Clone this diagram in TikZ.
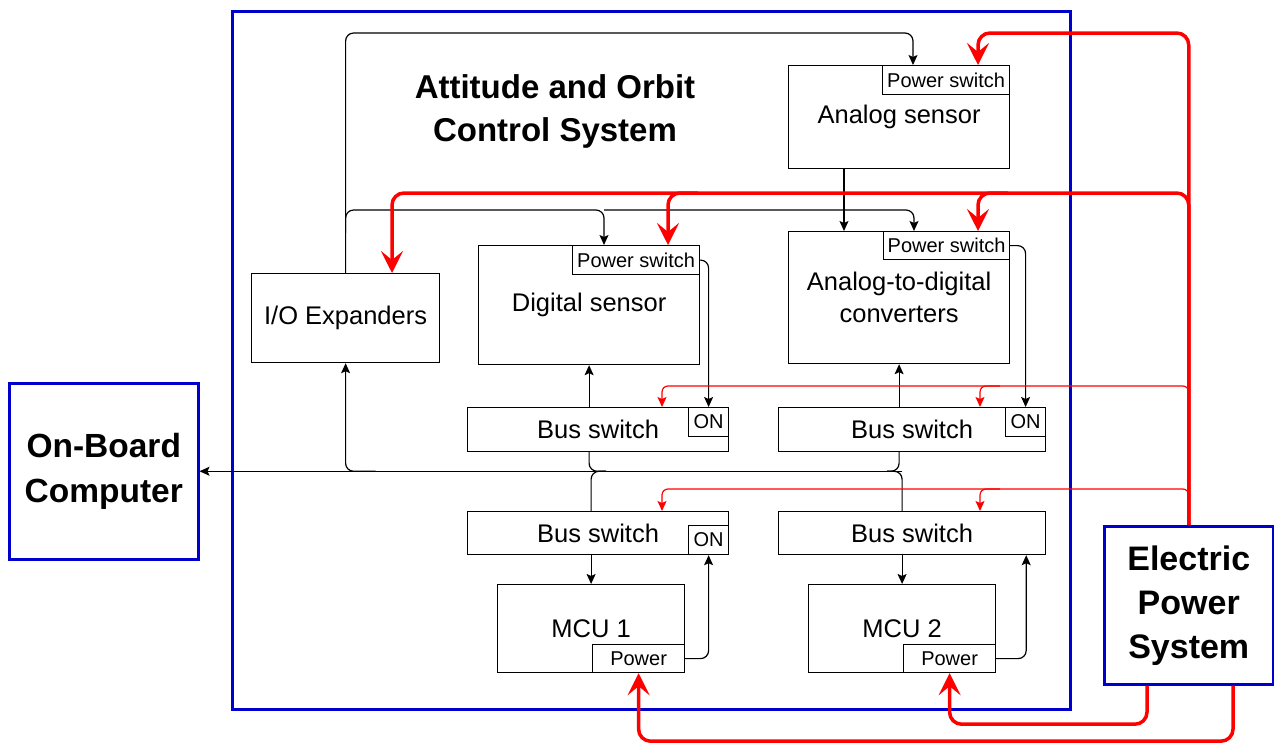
\documentclass[tikz,border=0pt]{standalone}
\usepackage{fontspec}
\setmainfont{Liberation Sans}
\usetikzlibrary{arrows.meta}
\definecolor{frameblue}{RGB}{0,0,204}

\begin{document}
\begin{tikzpicture}[x=1pt, y=-1pt,
	blk/.style = {draw, line width=1.2pt, inner sep=0pt, anchor=north west, align=center, font=\fontsize{25.5}{32}\selectfont},
	sub/.style = {draw, line width=1.2pt, inner sep=0pt, anchor=north west, font=\fontsize{20}{22}\selectfont},
	sys/.style = {draw=frameblue, line width=2.5pt, inner sep=0pt, anchor=north west, align=center, font=\fontsize{33.5}{45}\selectfont\bfseries},
	sig/.style = {line width=1.2pt, rounded corners=8pt, -{Stealth[length=10pt,width=9pt,inset=2pt]}},
	bus/.style = {line width=1.2pt, rounded corners=8pt},
	pwr/.style = {red, line width=3.5pt, rounded corners=12pt, -{Stealth[length=22pt,width=22pt,inset=9pt]}},
	pwrthin/.style = {red, line width=1.2pt, rounded corners=6pt, -{Stealth[length=10pt,width=9pt,inset=2pt]}}]
	\useasboundingbox (0,0) rectangle (1274,742);
	\node [sys, minimum width=838pt, minimum height=698pt] (aocs) at (231,10) {};
	\node [font=\fontsize{33}{43}\selectfont\bfseries, align=center] (title) at (555,111) {Attitude and Orbit\\Control System};
	\node [sys, minimum width=189pt, minimum height=176pt] (obc) at (8,382) {On-Board\\Computer};
	\node [sys, minimum width=169pt, minimum height=158pt, font=\fontsize{34}{44}\selectfont\bfseries] (eps) at (1103,525) {Electric\\Power\\System};
	% sensors and converters
	\node [blk, minimum width=221pt, minimum height=103pt] (asens) at (788,65) {Analog sensor};
	\node [sub, minimum width=127pt, minimum height=29pt] (pwA) at (882,65) {Power switch};
	\node [blk, minimum width=221pt, minimum height=132pt] (adc) at (788,231) {Analog-to-digital\\converters};
	\node [sub, minimum width=126pt, minimum height=28pt] (pwC) at (883,231) {Power switch};
	\node [blk, minimum width=221pt, minimum height=119pt] (dsens) at (478,245) {Digital sensor};
	\node [sub, minimum width=127pt, minimum height=29pt] (pwD) at (572,245) {Power switch};
	\node [blk, minimum width=188pt, minimum height=89pt] (ioexp) at (251,273) {I/O Expanders};
	% bus switches
	\node [blk, minimum width=261pt, minimum height=44pt] (bsw1) at (467,407) {Bus switch};
	\node [sub, minimum width=40pt, minimum height=29pt] (on1) at (688,407) {ON};
	\node [blk, minimum width=267pt, minimum height=44pt] (bsw2) at (778,407) {Bus switch};
	\node [sub, minimum width=40pt, minimum height=29pt] (on2) at (1005,407) {ON};
	\node [blk, minimum width=261pt, minimum height=43pt] (bsw3) at (467,511) {Bus switch};
	\node [sub, minimum width=40pt, minimum height=29pt] (on3) at (688,525) {ON};
	\node [blk, minimum width=267pt, minimum height=43pt] (bsw4) at (778,511) {Bus switch};
	% MCUs
	\node [blk, minimum width=187pt, minimum height=88pt] (mcu1) at (497,584) {MCU 1};
	\node [sub, minimum width=92pt, minimum height=28pt] (pw1) at (592,644) {Power};
	\node [blk, minimum width=187pt, minimum height=88pt] (mcu2) at (808,584) {MCU 2};
	\node [sub, minimum width=92pt, minimum height=28pt] (pw2) at (903,644) {Power};

	\coordinate (aIn) at ([xshift=31pt]pwA.north west);
	\coordinate (dIn) at ([xshift=32pt]pwD.north west);
	\coordinate (cIn) at ([xshift=31pt]pwC.north west);
	\coordinate (busL) at (mcu1.north |- obc.east);
	\coordinate (busR) at (mcu2.north |- obc.east);
	\draw [sig] (ioexp.north) |- ([yshift=32pt]aIn) -- (aIn);
	\draw [sig] ([yshift=40pt]ioexp.north) |- ([yshift=35pt]dIn) -- (dIn);
	\draw [sig] ([yshift=35pt]dIn) -| (cIn);
	\draw [sig] ([xshift=56pt]asens.south west) -- ([xshift=56pt]adc.north west);
	\draw [sig] (pwD.east) -| (on1.north);
	\draw [sig] (pwC.east) -| (on2.north);
	\draw [sig] (bsw1.north -| dsens.south) -- (dsens.south);
	\draw [sig] (bsw2.north -| adc.south) -- (adc.south);
	\draw [sig] (busR) -- (obc.east);
	\draw [sig] ([xshift=30pt]ioexp.south |- obc.east) -| (ioexp.south);
	\draw [bus] (bsw1.south -| dsens.south) |- ([xshift=15pt]busL);
	\draw [bus] (bsw3.north -| mcu1.north) |- ([xshift=15pt]busL);
	\draw [bus] (bsw2.south -| adc.south) |- ([xshift=-15pt]busR);
	\draw [bus] (bsw4.north -| mcu2.north) |- ([xshift=-15pt]busR);
	\draw [sig] (bsw3.south -| mcu1.north) -- (mcu1.north);
	\draw [sig] (pw1.east) -| (on3.south);
	\draw [sig] (bsw4.south -| mcu2.north) -- (mcu2.north);
	\draw [sig] (pw2.east) -| ([xshift=-20pt]bsw4.south east);

	% power lines
	\coordinate (aPw) at ([xshift=96pt]pwA.north west);
	\coordinate (cPw) at ([xshift=95pt]pwC.north west);
	\coordinate (dPw) at ([xshift=96pt]pwD.north west);
	\coordinate (ioPw) at ([xshift=141pt]ioexp.north west);
	\coordinate (b1Pw) at ([xshift=195pt]bsw1.north west);
	\coordinate (b2Pw) at ([xshift=202pt]bsw2.north west);
	\coordinate (b3Pw) at ([xshift=195pt]bsw3.north west);
	\coordinate (b4Pw) at ([xshift=202pt]bsw4.north west);
	\draw [pwrthin] ([yshift=125pt]eps.north) |- ([yshift=21pt]b1Pw) -- (b1Pw);
	\draw [pwrthin] ([xshift=20pt,yshift=21pt]b2Pw) -| (b2Pw);
	\draw [pwrthin] ([yshift=20pt]eps.north) |- ([yshift=22pt]b3Pw) -- (b3Pw);
	\draw [pwrthin] ([xshift=20pt,yshift=22pt]b4Pw) -| (b4Pw);
	\draw [pwr] (eps.north) |- ([yshift=32pt]aPw) -- (aPw);
	\draw [pwr] (eps.north) |- ([yshift=80pt]ioPw) -- (ioPw);
	\draw [pwr] ([xshift=30pt,yshift=52pt]dPw) -| (dPw);
	\draw [pwr] ([xshift=30pt,yshift=38pt]cPw) -| (cPw);
	\draw [pwr] ([xshift=44pt]eps.south west) |- ([yshift=-51pt]pw2.south) -- (pw2.south);
	\draw [pwr] ([xshift=130pt]eps.south west) |- ([yshift=-68pt]pw1.south) -- (pw1.south);
\end{tikzpicture}
\end{document}
